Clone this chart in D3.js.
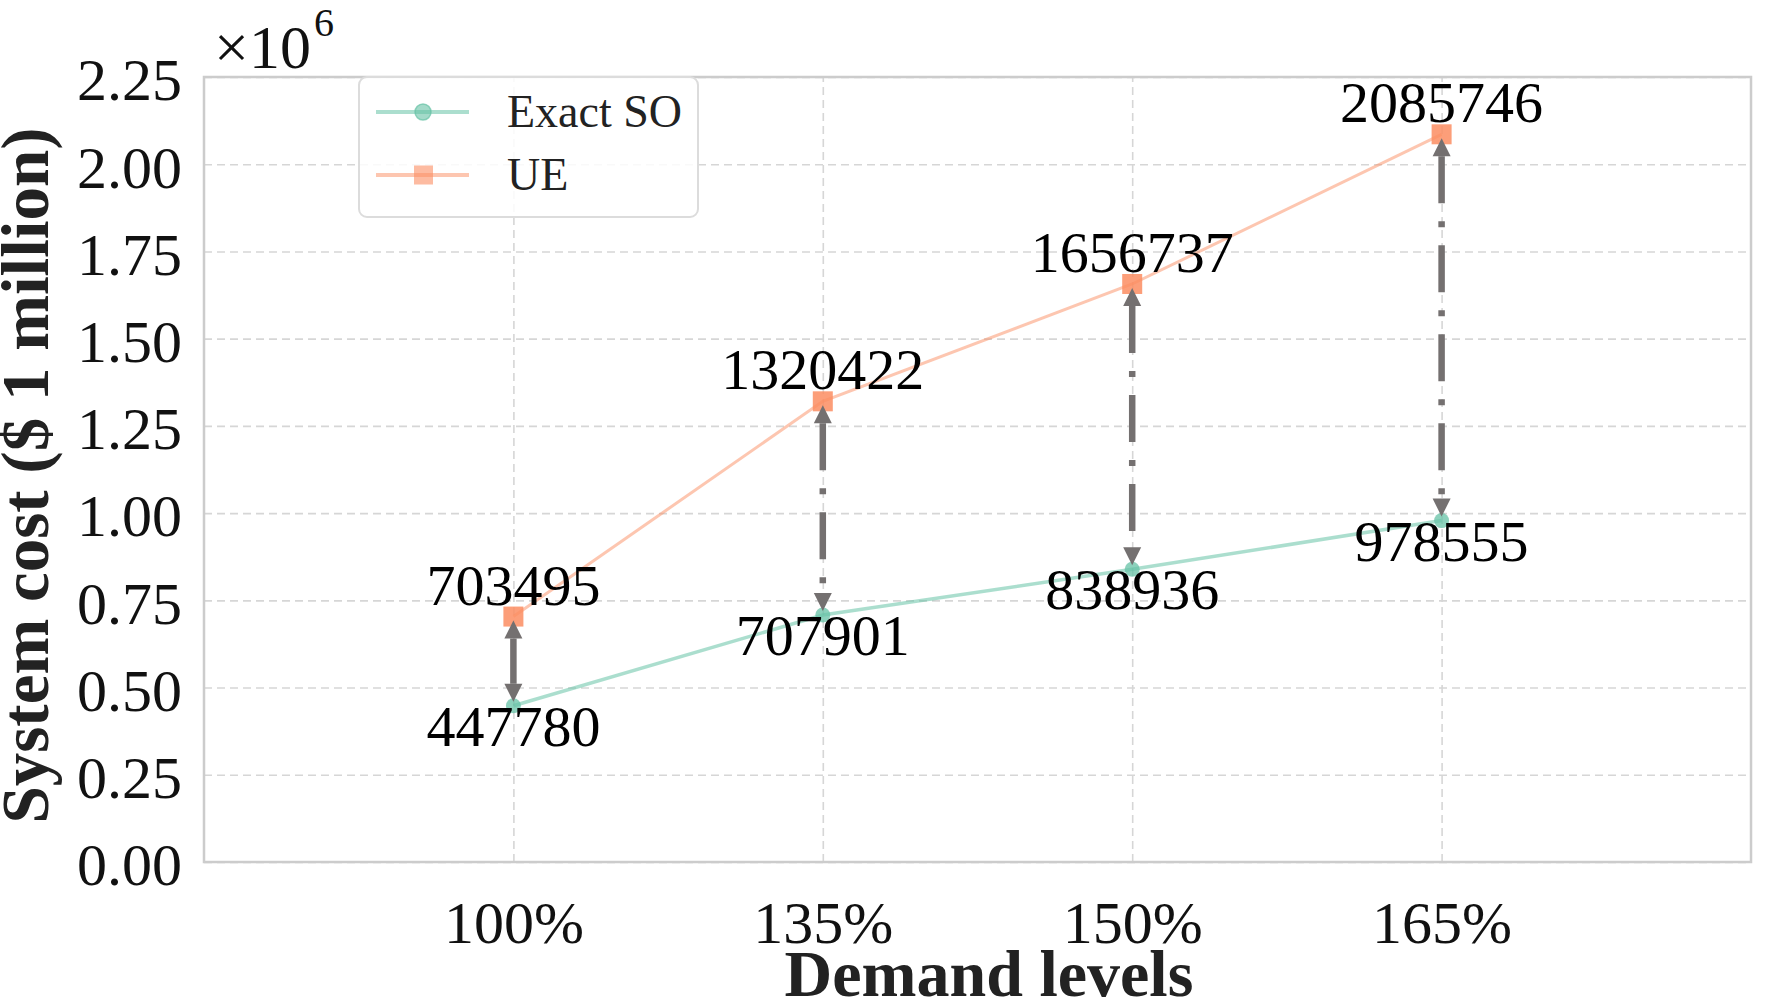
<!DOCTYPE html>
<html>
<head>
<meta charset="utf-8">
<script src="https://cdn.jsdelivr.net/npm/d3@7"></script>
<style>
  body { margin: 0; background: #fff; }
  svg { display: block; font-family: "Liberation Serif", "Times New Roman", serif; }
</style>
</head>
<body>
<script>
// demand levels and system costs
var categories = ["100%", "135%", "150%", "165%"];
var soValues = [447780, 707901, 838936, 978555];
var ueValues = [703495, 1320422, 1656737, 2085746];
var yTicks = [0, 0.25e6, 0.5e6, 0.75e6, 1e6, 1.25e6, 1.5e6, 1.75e6, 2e6, 2.25e6];
var seriesNames = ["Exact SO", "UE"];

drawChart();

function drawChart(){

    var width = 1778,
        height = 1002;

    //plot frame edges
    var pLeft = 204, pRight = 1751, pTop = 77, pBottom = 862;

    var svg = d3.select("body")
        .append("svg")
        .attr("width", width)
        .attr("height", height);

    var x = d3.scaleLinear().domain([-1, 4]).range([pLeft, pRight]);
    var y = d3.scaleLinear().domain([0, 2.25e6]).range([pBottom, pTop]);

    var green = "#66c2a5", orange = "#fc8d62", arrowCol = "#747070";

    //grid lines
    svg.append("g")
        .attr("transform", "translate(" + pLeft + ",0)")
        .call(d3.axisLeft(y).tickValues(yTicks).tickSize(-(pRight - pLeft)).tickFormat(""))
        .call(function(g){
            g.select(".domain").remove();
            g.selectAll("line").attr("stroke", "#d6d6d6").attr("stroke-width", 1.6).attr("stroke-dasharray", "8 5");
        });

    svg.append("g")
        .attr("transform", "translate(0," + pBottom + ")")
        .call(d3.axisBottom(x).tickValues(d3.range(categories.length)).tickSize(-(pBottom - pTop)).tickFormat(""))
        .call(function(g){
            g.select(".domain").remove();
            g.selectAll("line").attr("stroke", "#d6d6d6").attr("stroke-width", 1.6).attr("stroke-dasharray", "8 5");
        });

    //frame
    svg.append("rect")
        .attr("x", pLeft).attr("y", pTop)
        .attr("width", pRight - pLeft).attr("height", pBottom - pTop)
        .attr("fill", "none").attr("stroke", "#cccccc").attr("stroke-width", 2.5);

    //tick labels
    svg.append("g")
        .attr("transform", "translate(" + pLeft + ",0)")
        .call(d3.axisLeft(y).tickValues(yTicks).tickSize(0).tickPadding(22)
            .tickFormat(function(d){ return (d / 1e6).toFixed(2); }))
        .call(function(g){
            g.select(".domain").remove();
            g.selectAll("text").attr("font-size", 60).attr("font-family", "Liberation Serif").attr("fill", "#111").attr("dy", "0.38em");
        });

    svg.append("g")
        .attr("transform", "translate(0," + pBottom + ")")
        .call(d3.axisBottom(x).tickValues(d3.range(categories.length)).tickSize(0).tickPadding(38)
            .tickFormat(function(d){ return categories[d]; }))
        .call(function(g){
            g.select(".domain").remove();
            g.selectAll("text").attr("font-size", 60).attr("font-family", "Liberation Serif").attr("fill", "#111");
        });

    //offset text
    var off = svg.append("text")
        .attr("x", 214).attr("y", 68)
        .attr("font-size", 62).attr("fill", "#111");
    off.append("tspan").text("\u00d710");
    off.append("tspan").attr("font-size", 40).attr("dx", 3).attr("dy", -32).text("6");

    //axis titles
    svg.append("text")
        .attr("transform", "translate(48," + ((pTop + pBottom) / 2 + 6) + ") rotate(-90)")
        .attr("text-anchor", "middle")
        .attr("font-size", 67).attr("font-weight", "bold").attr("fill", "#222")
        .text("System cost ($ 1 million)");

    svg.append("text")
        .attr("x", 989).attr("y", 996)
        .attr("text-anchor", "middle")
        .attr("font-size", 66).attr("font-weight", "bold").attr("fill", "#222")
        .text("Demand levels");

    //lines
    var line = d3.line()
        .x(function(d, i){ return x(i); })
        .y(function(d){ return y(d); });

    svg.append("path")
        .datum(soValues)
        .attr("d", line)
        .attr("fill", "none").attr("stroke", green).attr("stroke-opacity", 0.55).attr("stroke-width", 3.5);

    svg.append("path")
        .datum(ueValues)
        .attr("d", line)
        .attr("fill", "none").attr("stroke", orange).attr("stroke-opacity", 0.5).attr("stroke-width", 3);

    svg.selectAll(".so")
        .data(soValues)
        .enter()
        .append("circle")
        .attr("class", "so")
        .attr("cx", function(d, i){ return x(i); })
        .attr("cy", function(d){ return y(d); })
        .attr("r", 7.5)
        .attr("fill", green).attr("fill-opacity", 0.75);

    svg.selectAll(".ue")
        .data(ueValues)
        .enter()
        .append("rect")
        .attr("class", "ue")
        .attr("x", function(d, i){ return x(i) - 10; })
        .attr("y", function(d){ return y(d) - 10; })
        .attr("width", 20).attr("height", 20)
        .attr("fill", orange).attr("fill-opacity", 0.85);

    //double arrows between UE and SO
    var headL = 18, headW = 18, gap = 4;
    categories.forEach(function(c, i){
        var xi = x(i), y1 = y(ueValues[i]) + gap, y2 = y(soValues[i]) - gap;
        svg.append("line")
            .attr("x1", xi).attr("x2", xi)
            .attr("y1", y1 + headL).attr("y2", y2 - headL)
            .attr("stroke", arrowCol).attr("stroke-width", 6.5)
            .attr("stroke-dasharray", "47 18 6 18");
        svg.append("path")
            .attr("d", "M" + xi + "," + y1 + "L" + (xi - headW / 2) + "," + (y1 + headL) + "L" + (xi + headW / 2) + "," + (y1 + headL) + "Z")
            .attr("fill", arrowCol);
        svg.append("path")
            .attr("d", "M" + xi + "," + y2 + "L" + (xi - headW / 2) + "," + (y2 - headL) + "L" + (xi + headW / 2) + "," + (y2 - headL) + "Z")
            .attr("fill", arrowCol);
    });

    //value labels
    svg.selectAll(".ueLab")
        .data(ueValues)
        .enter()
        .append("text")
        .attr("x", function(d, i){ return x(i); })
        .attr("y", function(d){ return y(d) - 12; })
        .attr("text-anchor", "middle")
        .attr("font-size", 58).attr("fill", "#000")
        .text(function(d){ return d; });

    svg.selectAll(".soLab")
        .data(soValues)
        .enter()
        .append("text")
        .attr("x", function(d, i){ return x(i); })
        .attr("y", function(d){ return y(d) + 40; })
        .attr("text-anchor", "middle")
        .attr("font-size", 58).attr("fill", "#000")
        .text(function(d){ return d; });

    //legend
    var legend = svg.append("g");
    legend.append("rect")
        .attr("x", 359).attr("y", 77).attr("width", 339).attr("height", 140)
        .attr("rx", 8).attr("fill", "#fff").attr("fill-opacity", 0.85)
        .attr("stroke", "#dcdcdc").attr("stroke-width", 2);

    var rows = [112, 175];
    legend.append("line").attr("x1", 376).attr("x2", 469).attr("y1", rows[0]).attr("y2", rows[0])
        .attr("stroke", green).attr("stroke-opacity", 0.55).attr("stroke-width", 4);
    legend.append("circle").attr("cx", 423).attr("cy", rows[0]).attr("r", 8)
        .attr("fill", green).attr("fill-opacity", 0.6).attr("stroke", green).attr("stroke-opacity", 0.7).attr("stroke-width", 1.5);
    legend.append("line").attr("x1", 376).attr("x2", 469).attr("y1", rows[1]).attr("y2", rows[1])
        .attr("stroke", orange).attr("stroke-opacity", 0.5).attr("stroke-width", 4);
    legend.append("rect").attr("x", 414).attr("y", rows[1] - 9.5).attr("width", 19).attr("height", 19)
        .attr("fill", orange).attr("fill-opacity", 0.6);

    legend.selectAll(".legText")
        .data(seriesNames)
        .enter()
        .append("text")
        .attr("x", 507)
        .attr("y", function(d, i){ return rows[i] + 15; })
        .attr("font-size", 46).attr("fill", "#222")
        .text(function(d){ return d; });
}
</script>
</body>
</html>
